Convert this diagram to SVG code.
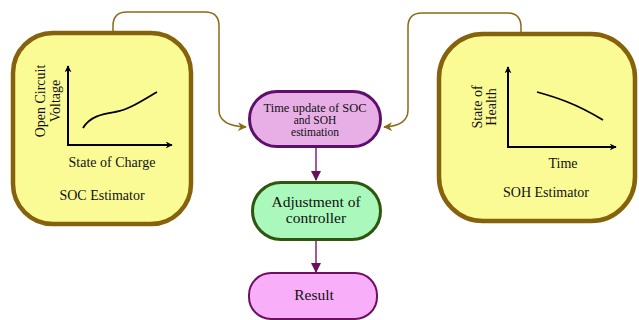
<svg xmlns="http://www.w3.org/2000/svg" width="639" height="320" viewBox="0 0 639 320">
  <defs>
    <marker id="goldArrow" viewBox="0 0 10 10" refX="9" refY="5" markerWidth="9" markerHeight="9" orient="auto" markerUnits="userSpaceOnUse">
      <path d="M0,0 L10,5 L0,10 L3,5 Z" fill="#8a6a14"/>
    </marker>
    <marker id="purpleArrow" viewBox="0 0 10 10" refX="9" refY="5" markerWidth="10" markerHeight="10" orient="auto" markerUnits="userSpaceOnUse">
      <path d="M0,0 L10,5 L0,10 Z" fill="#6a0f5e"/>
    </marker>
    <marker id="axisArrow" viewBox="0 0 10 10" refX="9" refY="5" markerWidth="7" markerHeight="7" orient="auto" markerUnits="userSpaceOnUse">
      <path d="M0,0 L10,5 L0,10 L3,5 Z" fill="#000"/>
    </marker>
  </defs>
  <style>
    .est { fill: #fbfb96; stroke: #86620c; stroke-width: 4.5; }
    .axis { fill: none; stroke: #000; stroke-width: 2; }
    .curve { fill: none; stroke: #000; stroke-width: 1.8; }
    .t { font-family: "Liberation Serif", "Times New Roman", "DejaVu Serif", serif; fill: #111; text-anchor: middle; }
    .link { fill: none; stroke: #8a6a14; stroke-width: 1.5; }
    .flow { fill: none; stroke: #a05a9e; stroke-width: 2; }
  </style>

  <!-- connectors -->
  <g id="connectors">
    <path class="link" d="M113,31 L113,26 Q113,12 127,12 L205,12 Q219,12 219,26 L219,110 Q219,126 246,127" marker-end="url(#goldArrow)"/>
    <path class="link" d="M521,33 L521,27 Q521,13 507,13 L422,13 Q408,13 408,27 L408,110 Q408,126 384,127" marker-end="url(#goldArrow)"/>
    <path class="flow" d="M316,148 L316,180" marker-end="url(#purpleArrow)"/>
    <path class="flow" d="M316,241 L316,272" marker-end="url(#purpleArrow)"/>
  </g>

  <!-- SOC estimator -->
  <g id="soc-estimator">
    <rect class="est" x="13" y="33" width="178" height="191" rx="40" ry="40"/>
    <path class="axis" d="M68,145 L68,66" marker-end="url(#axisArrow)"/>
    <path class="axis" d="M67,145 L172,145" marker-end="url(#axisArrow)"/>
    <path class="curve" d="M83,128 C90,116 103,114 115,112 C128,110 140,102 157,92"/>
    <text class="t" font-size="14" transform="translate(45,101) rotate(-90)">Open Circuit</text>
    <text class="t" font-size="14" transform="translate(60,101) rotate(-90)">Voltage</text>
    <text class="t" font-size="14" x="112" y="167">State of Charge</text>
    <text class="t" font-size="14" x="102" y="200">SOC Estimator</text>
  </g>

  <!-- SOH estimator -->
  <g id="soh-estimator">
    <rect class="est" x="439" y="34" width="196" height="187" rx="44" ry="44"/>
    <path class="axis" d="M508,147 L508,67" marker-end="url(#axisArrow)"/>
    <path class="axis" d="M507,147 L616,147" marker-end="url(#axisArrow)"/>
    <path class="curve" d="M537,92 C555,97 575,103 603,120"/>
    <text class="t" font-size="14" transform="translate(482,107) rotate(-90)">State of</text>
    <text class="t" font-size="14" transform="translate(496,107) rotate(-90)">Health</text>
    <text class="t" font-size="14" x="563" y="168">Time</text>
    <text class="t" font-size="14" x="546" y="197">SOH Estimator</text>
  </g>

  <!-- time update node -->
  <g id="time-update">
    <rect x="249.5" y="91.5" width="131" height="55" rx="27.5" ry="27.5" fill="#e8aee6" stroke="#5e0f6c" stroke-width="3"/>
    <text class="t" font-size="11.5" x="315" y="111.5" textLength="103" lengthAdjust="spacingAndGlyphs">Time update of SOC</text>
    <text class="t" font-size="11.5" x="315" y="123.5">and SOH</text>
    <text class="t" font-size="11.5" x="315" y="135.5">estimation</text>
  </g>

  <!-- adjustment node -->
  <g id="adjustment">
    <rect x="252.5" y="182.5" width="128" height="57" rx="28.5" ry="28.5" fill="#aaf8bc" stroke="#2e560e" stroke-width="3"/>
    <text class="t" font-size="15.5" x="316" y="207">Adjustment of</text>
    <text class="t" font-size="15.5" x="316" y="223">controller</text>
  </g>

  <!-- result node -->
  <g id="result">
    <rect x="249" y="273" width="128" height="46" rx="22" ry="22" fill="#f8aef8" stroke="#6e0f60" stroke-width="2"/>
    <text class="t" font-size="15.5" x="314" y="300">Result</text>
  </g>
</svg>
